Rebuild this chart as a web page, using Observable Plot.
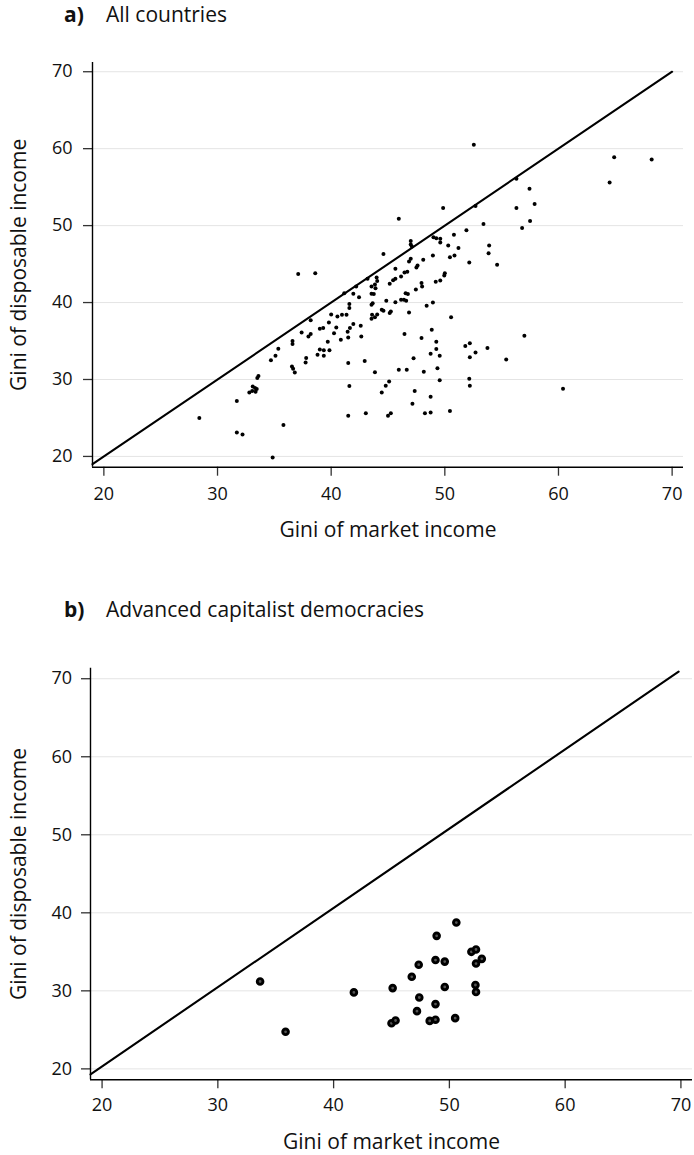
<!DOCTYPE html>
<html>
<head>
<meta charset="utf-8">
<script src="https://cdn.jsdelivr.net/npm/d3@7"></script>
<script src="https://cdn.jsdelivr.net/npm/@observablehq/plot@0.6"></script>
<style>
  body { margin: 0; background: #fff; }
  #wrap { position: relative; width: 694px; height: 1155px; font-family: "Open Sans", sans-serif; color: #111; overflow: hidden; }
  .t { position: absolute; font-size: 21px; line-height: 21px; white-space: nowrap; }
  .t.b { font-weight: 700; }
  .panel { position: absolute; left: 0; }
</style>
</head>
<body>
<div id="wrap">
  <div class="t b" style="left:64px; top:4px;">a)</div>
  <div class="t" style="left:106px; top:4px;">All countries</div>
  <div class="t b" style="left:64px; top:599px;">b)</div>
  <div class="t" style="left:106px; top:599px;">Advanced capitalist democracies</div>
  <div class="panel" id="pa" style="top:0px;"></div>
  <div class="panel" id="pb" style="top:560px;"></div>
</div>
<script>
// ---- axis definitions ----
const xTicks = [20, 30, 40, 50, 60, 70];
const yTicks = [20, 30, 40, 50, 60, 70];
const xDomain = [19, 71];
const yDomainA = [18.6, 71.2];
const yDomainB = [18.6, 71.35];
const xLabel = "Gini of market income";
const yLabel = "Gini of disposable income";

// reference diagonal
const diagAX = [19, 70];
const diagAY = [19, 70];
const diagBX = [19, 69.8];
const diagBY = [19.3, 70.9];

// ---- panel a: all countries (market Gini, disposable Gini) ----
const allMarket = [
  37.1, 38.6, 41.15, 41.6, 41.6, 40.0, 40.55, 40.95, 41.35, 39.8,
  38.2, 39.0, 39.3, 37.4, 38.0, 38.2, 40.45, 40.25, 39.7, 40.85,
  39.0, 39.35, 39.35, 38.8, 39.85, 37.8, 37.75, 36.6, 36.6, 35.35,
  35.1, 34.7, 36.55, 36.65, 36.8, 33.6, 33.5, 33.1, 33.3, 33.45,
  33.35, 32.8, 33.05, 31.7, 28.4, 31.7, 32.2, 35.8, 34.85, 41.5,
  41.6, 41.5, 41.5, 41.45,
  41.65, 41.95, 42.6, 42.65, 42.95, 43.85, 43.05, 44.45, 44.8, 45.1,
  45.0, 45.25, 45.95, 46.65, 46.45, 47.25, 47.95, 48.15, 47.35, 47.15,
  48.25, 48.75, 48.75, 48.85, 49.25, 49.25, 48.75, 49.55, 49.35, 49.55,
  50.45, 51.8, 52.2, 52.2, 52.7, 53.75, 55.4, 57.0, 52.15, 52.2,
  45.15,
  52.55, 49.85, 45.95, 56.3, 57.45, 56.3, 56.8, 57.5, 52.7, 53.4,
  51.9, 50.8, 49.6, 49.25, 49.0, 49.6, 47.0, 47.0, 47.1, 50.3,
  51.2, 53.9, 53.85, 54.6, 52.15, 50.45, 50.85, 48.95, 48.1, 47.6,
  47.5, 47.0, 46.85, 46.7, 46.45, 46.15, 45.65, 44.6, 45.65, 45.45,
  45.15, 44.0, 44.05, 43.2, 43.85, 43.9, 43.55, 43.55, 43.75, 41.95,
  42.45, 42.2, 43.55, 43.65, 44.85, 45.25, 45.65, 46.15, 46.4, 46.6,
  46.55, 46.75, 47.45, 47.95, 48.0, 49.2, 49.6, 49.95, 50.0, 48.4,
  48.95, 46.85, 44.45, 44.6, 44.05, 43.6, 43.55, 43.85, 50.55,
  64.9, 68.2, 64.5, 57.9, 60.4
];
const allDisposable = [
  43.7, 43.8, 41.2, 39.8, 39.3, 38.45, 38.2, 38.4, 38.4, 37.4,
  37.7, 36.6, 36.7, 36.1, 35.6, 35.9, 36.75, 36.0, 34.9, 35.15,
  33.9, 33.8, 33.1, 33.2, 33.8, 32.8, 32.2, 35.0, 34.6, 34.0,
  33.1, 32.5, 31.7, 31.4, 30.9, 30.45, 30.2, 29.1, 28.9, 28.75,
  28.4, 28.3, 28.5, 27.2, 25.0, 23.1, 22.85, 24.1, 19.85, 32.15,
  29.15, 25.3, 35.45, 36.2,
  36.7, 37.2, 37.0, 35.6, 32.4, 30.95, 25.6, 28.3, 29.2, 29.75,
  25.3, 25.6, 31.25, 31.25, 35.9, 32.75, 35.4, 31.0, 28.5, 26.85,
  25.6, 25.7, 27.75, 36.45, 34.9, 33.95, 33.35, 33.1, 31.45, 29.9,
  25.9, 34.35, 34.7, 32.9, 33.5, 34.1, 32.6, 35.7, 30.1, 29.2,
  38.65,
  60.5, 52.3, 50.9, 56.1, 54.8, 52.3, 49.7, 50.6, 52.55, 50.2,
  49.4, 48.8, 48.3, 48.35, 48.5, 47.8, 48.0, 47.55, 47.3, 47.4,
  47.1, 47.4, 46.4, 44.9, 45.2, 45.9, 46.1, 46.1, 45.55, 44.8,
  44.55, 45.7, 45.35, 44.0, 43.9, 43.4, 44.4, 46.3, 43.1, 42.9,
  42.45, 43.25, 42.8, 43.1, 42.35, 41.85, 42.1, 41.15, 41.1, 41.15,
  40.7, 42.1, 39.7, 39.9, 40.25, 38.85, 40.05, 40.35, 40.35, 40.25,
  41.2, 41.1, 41.7, 42.55, 42.1, 42.7, 42.85, 43.5, 43.8, 39.6,
  40.0, 38.7, 39.05, 38.95, 38.45, 38.4, 37.9, 38.1, 38.1,
  58.9, 58.6, 55.6, 52.8, 28.8
];

// ---- panel b: advanced capitalist democracies ----
const acdMarket = [
  33.65, 35.85, 41.75, 45.0, 45.35, 45.1, 46.75, 47.35, 47.4, 47.2,
  48.3, 48.8, 48.8, 48.9, 48.8, 49.6, 49.6, 50.6, 50.5, 51.9,
  52.3, 52.8, 52.3, 52.25, 52.3
];
const acdDisposable = [
  31.2, 24.75, 29.8, 25.85, 26.2, 30.35, 31.8, 33.35, 29.15, 27.4,
  26.15, 26.3, 28.3, 37.05, 33.95, 33.75, 30.5, 38.75, 26.5, 35.0,
  35.3, 34.1, 33.5, 30.75, 29.85
];

const toRows = (xs, ys) => xs.map((x, i) => ({x, y: ys[i]}));
const ptsA = toRows(allMarket, allDisposable);
const ptsB = toRows(acdMarket, acdDisposable);
const diagA = toRows(diagAX, diagAY);
const diagB = toRows(diagBX, diagBY);

function panel({height, marginTop, marginBottom, marginLeft, marginRight, yDomain, pts, diag, dotOpts, xPad, yPad, xLabelDy, yLabelDx}) {
  return Plot.plot({
    width: 694,
    height,
    marginTop, marginBottom, marginLeft, marginRight,
    style: {fontFamily: "Open Sans, sans-serif", fontSize: "18px", color: "#111", background: "transparent", overflow: "visible"},
    x: {domain: xDomain},
    y: {domain: yDomain},
    marks: [
      Plot.gridY(yTicks, {stroke: "#e4e4e4", strokeOpacity: 1, strokeWidth: 1}),
      Plot.axisX(xTicks, {tickSize: 9, tickPadding: xPad, stroke: "#333", strokeWidth: 1.3, fill: "#111", fontSize: 18, label: null}),
      Plot.axisY(yTicks, {tickSize: 9, tickPadding: yPad, stroke: "#333", strokeWidth: 1.3, fill: "#111", fontSize: 18, label: null}),
      Plot.ruleX([xDomain[0]], {stroke: "#000", strokeWidth: 1.4}),
      Plot.ruleY([yDomain[0]], {stroke: "#000", strokeWidth: 1.4}),
      Plot.text([xLabel], {frameAnchor: "bottom", dy: xLabelDy, lineAnchor: "bottom", textAnchor: "middle", fontSize: 21, fill: "#111"}),
      Plot.text([yLabel], {frameAnchor: "left", dx: yLabelDx, rotate: -90, lineAnchor: "top", textAnchor: "middle", fontSize: 21, fill: "#111"}),
      Plot.line(diag, {x: "x", y: "y", stroke: "#000", strokeWidth: 2.1}),
      Plot.dot(pts, {x: "x", y: "y", ...dotOpts})
    ]
  });
}

document.getElementById("pa").append(panel({
  height: 560, marginTop: 62, marginBottom: 93.3, marginLeft: 92, marginRight: 11,
  yDomain: yDomainA, pts: ptsA, diag: diagA,
  dotOpts: {r: 2, fill: "#000", stroke: "none"},
  xPad: 11, yPad: 11, xLabelDy: 70, yLabelDx: -81
}));

document.getElementById("pb").append(panel({
  height: 595, marginTop: 107.7, marginBottom: 75.7, marginLeft: 90, marginRight: 2,
  yDomain: yDomainB, pts: ptsB, diag: diagB,
  dotOpts: {r: 2.85, fill: "#555", stroke: "#000", strokeWidth: 2.9},
  xPad: 9, yPad: 9.5, xLabelDy: 69.5, yLabelDx: -79
}));
</script>
</body>
</html>
